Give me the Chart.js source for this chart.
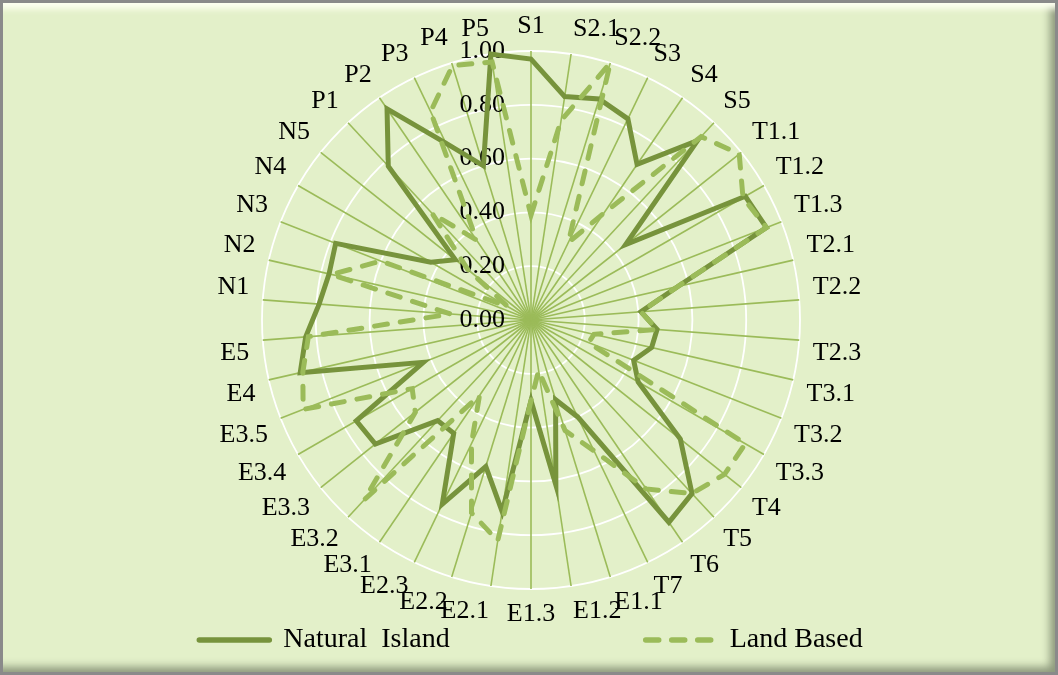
<!DOCTYPE html>
<html lang="en">
<head>
  <meta charset="UTF-8">
  <title>Natural Island vs Land Based</title>
  <script src="https://cdn.jsdelivr.net/npm/chart.js"></script>
  <style>
    html, body { margin: 0; padding: 0; }
    #frame {
      position: relative;
      width: 1058px; height: 675px;
      box-sizing: border-box;
      background: #E3F0C9;
      border: 3px solid #8a8a8a;
      box-shadow: inset 0 12px 6px -6px #fdfff0, inset -9px -9px 8px -4px rgba(70,80,60,0.55);
    }
    #wrap { position: absolute; left: 0; top: 0; width: 1058px; height: 675px; }
  </style>
</head>
<body>
  <div id="frame"></div>
  <div id="wrap"><canvas id="radarChart"></canvas></div>

  <script>
    const categories = ['S1', 'S2.1', 'S2.2', 'S3', 'S4', 'S5',
      'T1.1', 'T1.2', 'T1.3', 'T2.1', 'T2.2', 'T2.3', 'T3.1', 'T3.2', 'T3.3', 'T4', 'T5', 'T6', 'T7',
      'E1.1', 'E1.2', 'E1.3', 'E2.1', 'E2.2', 'E2.3', 'E3.1', 'E3.2', 'E3.3', 'E3.4', 'E3.5', 'E4', 'E5',
      'N1', 'N2', 'N3', 'N4', 'N5', 'P1', 'P2', 'P3', 'P4', 'P5'];

    const naturalIsland = [0.97, 0.84, 0.86, 0.83, 0.70, 0.91,
      0.45, 0.92, 0.94, 0.56, 0.41, 0.47, 0.46, 0.41, 0.46, 0.71, 0.88, 0.91, 0.40,
      0.31, 0.62, 0.30, 0.72, 0.57, 0.76, 0.51, 0.51, 0.74, 0.75, 0.43, 0.88, 0.84,
      0.79, 0.77, 0.78, 0.43, 0.36, 0.78, 0.95, 0.73, 0.60, 1.00];

    const landBased = [0.39, 0.75, 1.00, 0.32, 0.48, 0.93,
      0.99, 0.91, 0.94, 0.56, 0.41, 0.47, 0.24, 0.23, 0.92, 0.92, 0.88, 0.76, 0.54,
      0.43, 0.19, 0.30, 0.83, 0.75, 0.51, 0.34, 0.91, 0.55, 0.51, 0.91, 0.87, 0.83,
      0.30, 0.76, 0.60, 0.10, 0.30, 0.54, 0.36, 0.86, 0.99, 0.97];

    const tickMin = 0, tickMax = 1, tickStep = 0.2;

    const darkGreen = '#77933C';
    const lightGreen = '#9BBB59';
    const serif = "'Liberation Serif', 'Times New Roman', serif";

    // ticks sit left of the vertical axis, so pad the label with spaces
    const fmtTick = v => v.toFixed(2) + '               ';

    // chart.js skips the first radial tick label, draw "0.00" ourselves
    const zeroTick = {
      id: 'zeroTick',
      afterDatasetsDraw(chart) {
        const s = chart.scales.r;
        const ctx = chart.ctx;
        ctx.save();
        ctx.font = '26px ' + serif;
        ctx.fillStyle = '#000';
        ctx.textAlign = 'center';
        ctx.textBaseline = 'middle';
        ctx.fillText(fmtTick(tickMin), s.xCenter, s.yCenter - s.getDistanceFromCenterForValue(tickMin));
        ctx.restore();
      }
    };

    new Chart(document.getElementById('radarChart'), {
      type: 'radar',
      data: {
        labels: categories,
        datasets: [
          {
            label: 'Land Based',
            data: landBased,
            borderColor: lightGreen,
            backgroundColor: lightGreen,
            borderWidth: 5,
            borderDash: [13, 13],
            borderCapStyle: 'round',
            pointRadius: 0,
            pointHoverRadius: 0,
            pointStyle: 'line',
            fill: false,
            tension: 0
          },
          {
            label: 'Natural  Island',
            data: naturalIsland,
            borderColor: darkGreen,
            backgroundColor: darkGreen,
            borderWidth: 5,
            borderCapStyle: 'round',
            pointRadius: 0,
            pointHoverRadius: 0,
            pointStyle: 'line',
            fill: false,
            tension: 0
          }
        ]
      },
      options: {
        responsive: true,
        maintainAspectRatio: false,
        animation: false,
        layout: { padding: { top: 14, left: 4, right: 0, bottom: 11 } },
        plugins: {
          tooltip: { enabled: false },
          legend: {
            position: 'bottom',
            reverse: true,
            labels: {
              usePointStyle: true,
              pointStyleWidth: 70,
              padding: 0,
              color: '#000',
              font: { family: serif, size: 28 },
              generateLabels(chart) {
                const items = Chart.defaults.plugins.legend.labels.generateLabels(chart);
                items.forEach(it => {
                  const ds = chart.data.datasets[it.datasetIndex];
                  it.lineDash = ds.borderDash || [];
                  it.lineCap = 'round';
                  it.lineWidth = 5.5;
                  it.strokeStyle = ds.borderColor;
                  // wide gap between the two entries
                  if (it.datasetIndex === 1) it.text += ' '.repeat(28);
                });
                return items;
              }
            }
          }
        },
        scales: {
          r: {
            min: tickMin,
            max: tickMax,
            ticks: {
              stepSize: tickStep,
              showLabelBackdrop: false,
              backdropPadding: { top: -11, bottom: -11, left: 0, right: 0 },
              color: '#000',
              font: { family: serif, size: 26 },
              callback: fmtTick
            },
            grid: { circular: true, color: '#ffffff', lineWidth: 1.8 },
            angleLines: { color: lightGreen, lineWidth: 1.6 },
            pointLabels: {
              color: '#000',
              padding: 11.6,
              font: { family: serif, size: 26, lineHeight: 0.9 }
            }
          }
        }
      },
      plugins: [zeroTick]
    });
  </script>
</body>
</html>
